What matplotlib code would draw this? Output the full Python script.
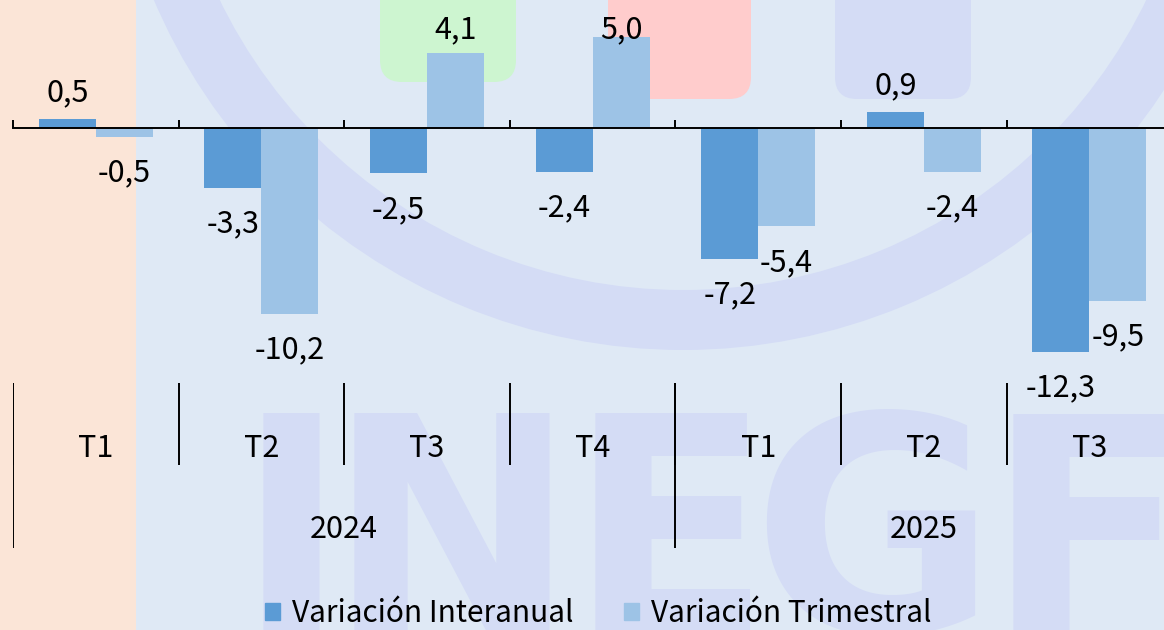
import matplotlib
matplotlib.use("Agg")
import matplotlib.pyplot as plt
from matplotlib.patches import Rectangle, FancyBboxPatch, Annulus, Patch
import numpy as np

# quarterly figures, two series
years = ["2024", "2025"]
quarters = ["T1", "T2", "T3", "T4", "T1", "T2", "T3"]
quarters_per_year = [4, 3]
interanual = [0.5, -3.3, -2.5, -2.4, -7.2, 0.9, -12.3]
trimestral = [-0.5, -10.2, 4.1, 5.0, -5.4, -2.4, -9.5]
series_names = ["Variación Interanual", "Variación Trimestral"]

plt.rcParams['font.family'] = ['Noto Sans CJK SC', 'DejaVu Sans']

W, H = 1164, 630
fig = plt.figure(figsize=(W / 100, H / 100), dpi=100)
fig.patch.set_facecolor('#dfe9f5')

# ---- page background / watermark layer, in pixel units
bg = fig.add_axes([0, 0, 1, 1], zorder=0)
bg.set_xlim(0, W)
bg.set_ylim(H, 0)
bg.axis('off')
wm = '#d4dcf5'
bg.add_patch(Rectangle((0, 0), 136, H, color='#fbe5d7', lw=0))
bg.add_patch(Annulus((683, -225), 575, 60, color=wm, lw=0))
for x0, x1, y1, c in [(380, 516, 82, '#cdf5d0'), (608, 751, 99, '#ffcccc'),
                      (835, 971, 99, wm)]:
    bg.add_patch(FancyBboxPatch((x0, -40), x1 - x0, y1 + 40,
                                boxstyle='round,pad=0,rounding_size=22',
                                color=c, lw=0))
for ch, xc in zip("INEGF", [291, 452, 670, 874, 1088]):
    bg.text(xc, 632, ch, fontsize=215, family='DejaVu Sans', weight='bold',
            color=wm, ha='center', va='baseline')

# ---- chart
axis_px = 128          # zero line, pixels from top
px_unit = 18.2         # pixels per percentage point
cat_px = 165.6
left_px = 13
n = len(quarters)
ax = fig.add_axes([left_px / W, 0, n * cat_px / W, 1], zorder=1)
ax.set_facecolor('none')
ax.set_xlim(-0.5, n - 0.5)
ax.set_ylim(-(H - axis_px) / px_unit, axis_px / px_unit)

x = np.arange(n)
bw = 0.344
c_ia, c_tr = '#5b9bd5', '#9dc3e6'
ax.bar(x - bw / 2, interanual, bw, color=c_ia, zorder=2)
ax.bar(x + bw / 2, trimestral, bw, color=c_tr, zorder=2)

for sp in ['left', 'right', 'top']:
    ax.spines[sp].set_visible(False)
ax.spines['bottom'].set_position(('data', 0))
ax.spines['bottom'].set_linewidth(1.4)
ax.set_yticks([])
ax.set_xticks(np.arange(n + 1) - 0.5)
ax.set_xticklabels([])
ax.tick_params(axis='x', direction='in', length=6, width=1.4)


def fmt(v):
    return f"{v:.1f}".replace('.', ',')


def px(v):
    return v / px_unit


fs = 22
top_limit = axis_px - 38
for xs, vals in [(x - bw / 2, interanual), (x + bw / 2, trimestral)]:
    for xi, v in zip(xs, vals):
        if v >= 0:
            y = min(v + px(17.5), px(top_limit))
        else:
            y = v - px(44.5)
        ax.text(xi, y, fmt(v), fontsize=fs, ha='center', va='baseline',
                zorder=3)

# two-level category axis
q_base = -px(457 - axis_px)
y_base = -px(538 - axis_px)
for i, q in enumerate(quarters):
    ax.text(i, q_base, q, fontsize=fs, ha='center', va='baseline')
ax.vlines(np.arange(n) - 0.5, -px(465 - axis_px), -px(383 - axis_px),
          color='black', lw=1.4)
start = 0
for yr, k in zip(years, quarters_per_year):
    ax.vlines(start - 0.5, -px(548 - axis_px), -px(383 - axis_px),
              color='black', lw=1.4)
    ax.text(start + (k - 1) / 2, y_base, yr, fontsize=fs, ha='center',
            va='baseline')
    start += k

handles = [Patch(color=c_ia), Patch(color=c_tr)]
fig.legend(handles, series_names, loc='center',
           bbox_to_anchor=(598 / W, 1 - 614 / H), ncol=2, frameon=False,
           fontsize=21.5, handlelength=0.5, handleheight=0.5,
           handletextpad=0.4, columnspacing=1.7, borderpad=0)

fig.savefig('out.png', dpi=100, facecolor=fig.get_facecolor())
